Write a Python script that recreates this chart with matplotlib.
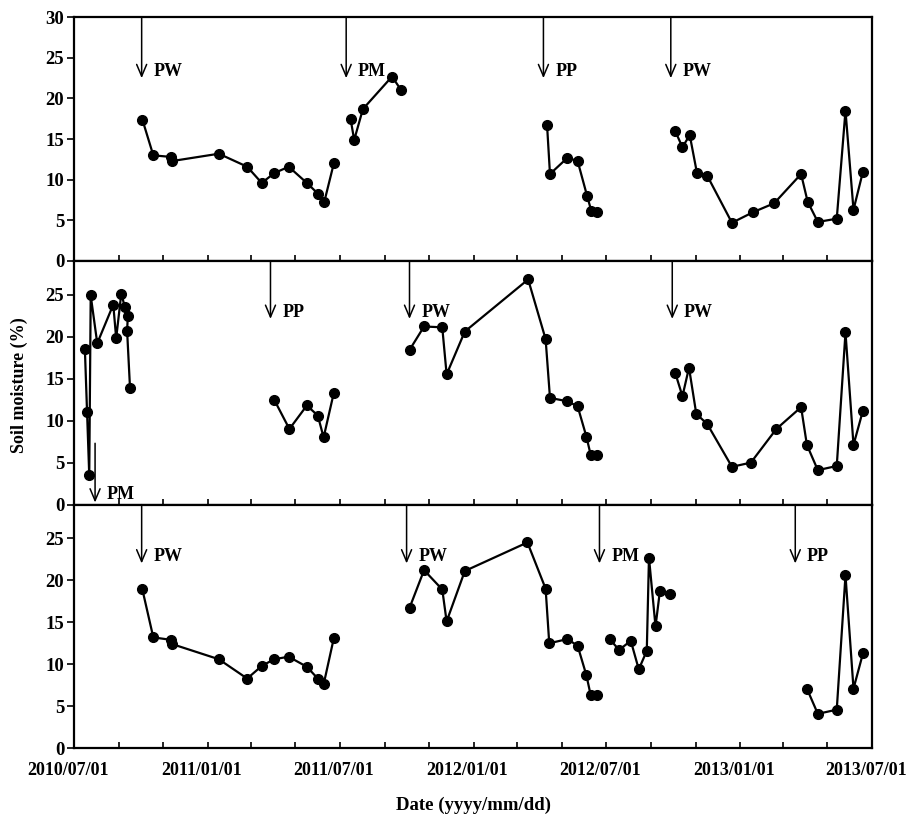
import matplotlib
matplotlib.use("Agg")
import matplotlib.pyplot as plt
import matplotlib.dates as mdates
from matplotlib.transforms import ScaledTranslation
import pandas as pd

# ---------------- data ----------------
# Top panel
p1_a_dates = ["2010-10-03", "2010-10-18", "2010-11-12", "2010-11-13", "2011-01-16", "2011-02-24",
              "2011-03-16", "2011-04-02", "2011-04-22", "2011-05-17", "2011-06-01", "2011-06-10", "2011-06-23"]
p1_a_vals = [17.4, 13.0, 12.8, 12.3, 13.2, 11.6, 9.6, 10.8, 11.6, 9.6, 8.3, 7.3, 12.0]
p1_b_dates = ["2011-07-16", "2011-07-21", "2011-08-02", "2011-09-11", "2011-09-23"]
p1_b_vals = [17.5, 14.9, 18.7, 22.7, 21.1]
p1_c_dates = ["2012-04-11", "2012-04-15", "2012-05-09", "2012-05-23", "2012-06-05", "2012-06-11", "2012-06-19"]
p1_c_vals = [16.7, 10.7, 12.7, 12.3, 8.0, 6.1, 6.0]
p1_d_dates = ["2012-10-04", "2012-10-14", "2012-10-24", "2012-11-03", "2012-11-17", "2012-12-21", "2013-01-19",
              "2013-02-17", "2013-03-26", "2013-04-04", "2013-04-18", "2013-05-14", "2013-05-26", "2013-06-06",
              "2013-06-19"]
p1_d_vals = [16.0, 14.0, 15.5, 10.8, 10.5, 4.7, 6.0, 7.1, 10.7, 7.3, 4.8, 5.2, 18.5, 6.3, 11.0]
p1_event_dates = ["2010-10-02", "2011-07-10", "2012-04-06", "2012-09-28"]
p1_event_labels = ["PW", "PM", "PP", "PW"]

# Middle panel
p2_a_dates = ["2010-07-16", "2010-07-19", "2010-07-22", "2010-07-24", "2010-08-02", "2010-08-24",
              "2010-08-28", "2010-09-04", "2010-09-09", "2010-09-13", "2010-09-12", "2010-09-16"]
p2_a_vals = [18.5, 11.0, 3.5, 24.9, 19.2, 23.8, 19.8, 25.1, 23.5, 22.4, 20.7, 13.9]
p2_b_dates = ["2011-04-02", "2011-04-23", "2011-05-17", "2011-06-01", "2011-06-09", "2011-06-23"]
p2_b_vals = [12.5, 9.0, 11.8, 10.6, 8.0, 13.3]
p2_c_dates = ["2011-10-05", "2011-10-25", "2011-11-19", "2011-11-25", "2011-12-20", "2012-03-16", "2012-04-09",
              "2012-04-15", "2012-05-09", "2012-05-23", "2012-06-04", "2012-06-10", "2012-06-19"]
p2_c_vals = [18.4, 21.2, 21.1, 15.5, 20.6, 26.8, 19.7, 12.7, 12.3, 11.7, 8.1, 5.9, 5.9]
p2_d_dates = ["2012-10-04", "2012-10-14", "2012-10-23", "2012-11-02", "2012-11-17", "2012-12-21", "2013-01-16",
              "2013-02-20", "2013-03-26", "2013-04-03", "2013-04-18", "2013-05-14", "2013-05-26", "2013-06-06",
              "2013-06-19"]
p2_d_vals = [15.7, 12.9, 16.3, 10.8, 9.6, 4.5, 5.0, 9.0, 11.6, 7.1, 4.1, 4.6, 20.5, 7.1, 11.2]
p2_event_dates = ["2011-03-28", "2011-10-05", "2012-09-30"]
p2_event_labels = ["PP", "PW", "PW"]
p2_bottom_event_date = "2010-07-30"
p2_bottom_event_label = "PM"

# Bottom panel
p3_a_dates = ["2010-10-03", "2010-10-18", "2010-11-12", "2010-11-13", "2011-01-16", "2011-02-24",
              "2011-03-16", "2011-04-02", "2011-04-22", "2011-05-17", "2011-06-01", "2011-06-09", "2011-06-23"]
p3_a_vals = [18.9, 13.2, 12.9, 12.4, 10.6, 8.3, 9.8, 10.6, 10.9, 9.7, 8.3, 7.6, 13.1]
p3_b_dates = ["2011-10-05", "2011-10-25", "2011-11-19", "2011-11-25", "2011-12-20", "2012-03-15", "2012-04-09",
              "2012-04-14", "2012-05-09", "2012-05-23", "2012-06-04", "2012-06-10", "2012-06-19"]
p3_b_vals = [16.7, 21.2, 18.9, 15.1, 21.1, 24.5, 19.0, 12.5, 13.0, 12.2, 8.7, 6.3, 6.4]
p3_c_dates = ["2012-07-06", "2012-07-19", "2012-08-04", "2012-08-15", "2012-08-26", "2012-08-29",
              "2012-09-07", "2012-09-13"]
p3_c_vals = [13.0, 11.7, 12.8, 9.4, 11.6, 22.7, 14.5, 18.7]
p3_single_dates = ["2012-09-27"]
p3_single_vals = [18.4]
p3_d_dates = ["2013-04-03", "2013-04-18", "2013-05-14", "2013-05-26", "2013-06-06", "2013-06-19"]
p3_d_vals = [7.1, 4.1, 4.6, 20.6, 7.1, 11.3]
p3_event_dates = ["2010-10-02", "2011-10-01", "2012-06-22", "2013-03-18"]
p3_event_labels = ["PW", "PW", "PM", "PP"]

x_start, x_end = "2010-07-01", "2013-07-01"
y_label = "Soil moisture (%)"
x_label = "Date (yyyy/mm/dd)"

# ---------------- drawing ----------------
FONT = "Liberation Serif"
plt.rcParams["font.family"] = [FONT, "DejaVu Serif"]
plt.rcParams["font.weight"] = "bold"

fig = plt.figure(figsize=(9.12, 8.18), dpi=100)
gs = fig.add_gridspec(3, 1, left=0.0811, right=0.9558, bottom=0.0852, top=0.9789, hspace=0)
axes = [fig.add_subplot(gs[i]) for i in range(3)]
for ax in axes[1:]:
    ax.sharex(axes[0])

line_kw = dict(color="black", lw=1.6, marker="o", ms=7, mfc="black", mec="black")


def seg(ax, d, v, line=True):
    kw = dict(line_kw)
    if not line:
        kw["ls"] = "none"
    ax.plot(pd.to_datetime(d), v, **kw)


def arrow_down(ax, date, start, tip, label, label_dy=0.8):
    x = mdates.date2num(pd.Timestamp(date))
    ax.annotate("", xy=(x, tip), xytext=(x, start),
                arrowprops=dict(arrowstyle="->,head_length=0.85,head_width=0.36",
                                lw=1.1, color="black", shrinkA=0, shrinkB=0))
    ax.annotate(label, xy=(x, tip + label_dy), xytext=(8.5, 0), textcoords="offset points",
                ha="left", va="center", fontsize=13, fontweight="bold")


# top
ax = axes[0]
seg(ax, p1_a_dates, p1_a_vals)
seg(ax, p1_b_dates, p1_b_vals)
seg(ax, p1_c_dates, p1_c_vals)
seg(ax, p1_d_dates, p1_d_vals)
ax.set_ylim(0, 30)
ax.set_yticks(range(0, 31, 5))
for d, lab in zip(p1_event_dates, p1_event_labels):
    arrow_down(ax, d, 30, 22.5, lab)

# middle
ax = axes[1]
seg(ax, p2_a_dates, p2_a_vals)
seg(ax, p2_b_dates, p2_b_vals)
seg(ax, p2_c_dates, p2_c_vals)
seg(ax, p2_d_dates, p2_d_vals)
ax.set_ylim(0, 29)
ax.set_yticks(range(0, 26, 5))
for d, lab in zip(p2_event_dates, p2_event_labels):
    arrow_down(ax, d, 29, 22.1, lab)
arrow_down(ax, p2_bottom_event_date, 7.3, 0.25, p2_bottom_event_label, label_dy=0.9)

# bottom
ax = axes[2]
seg(ax, p3_a_dates, p3_a_vals)
seg(ax, p3_b_dates, p3_b_vals)
seg(ax, p3_c_dates, p3_c_vals)
seg(ax, p3_single_dates, p3_single_vals, line=False)
seg(ax, p3_d_dates, p3_d_vals)
ax.set_ylim(0, 29)
ax.set_yticks(range(0, 26, 5))
for d, lab in zip(p3_event_dates, p3_event_labels):
    arrow_down(ax, d, 29, 22.0, lab)

for i, ax in enumerate(axes):
    ax.set_xlim(pd.Timestamp(x_start), pd.Timestamp(x_end))
    ax.xaxis.set_major_locator(mdates.MonthLocator(bymonth=[1, 7]))
    ax.xaxis.set_minor_locator(mdates.MonthLocator(bymonth=[3, 5, 9, 11]))
    ax.xaxis.set_major_formatter(mdates.DateFormatter("%Y/%m/%d"))
    ax.tick_params(axis="x", which="both", direction="in", length=4, width=1.2,
                   labelsize=13, pad=10, labelbottom=(i == 2), top=False)
    ax.tick_params(axis="y", which="both", direction="out", length=5, width=1.2,
                   labelsize=13.5, pad=2, right=False)
    for lab in ax.get_xticklabels() + ax.get_yticklabels():
        lab.set_fontweight("bold")
    for sp in ax.spines.values():
        sp.set_linewidth(1.6)

# reference x tick labels sit a few pixels left of their ticks
shift = ScaledTranslation(-6 / 100, 0, fig.dpi_scale_trans)
for t in axes[2].xaxis.get_major_ticks():
    t.label1.set_transform(t.label1.get_transform() + shift)

fig.text(19 / 912, 1 - 385 / 818, y_label, rotation=90, ha="center", va="center",
         fontsize=13, fontweight="bold")
fig.text(474 / 912, 1 - 805 / 818, x_label, ha="center", va="center",
         fontsize=13.5, fontweight="bold")

fig.savefig("out.png", dpi=100)
